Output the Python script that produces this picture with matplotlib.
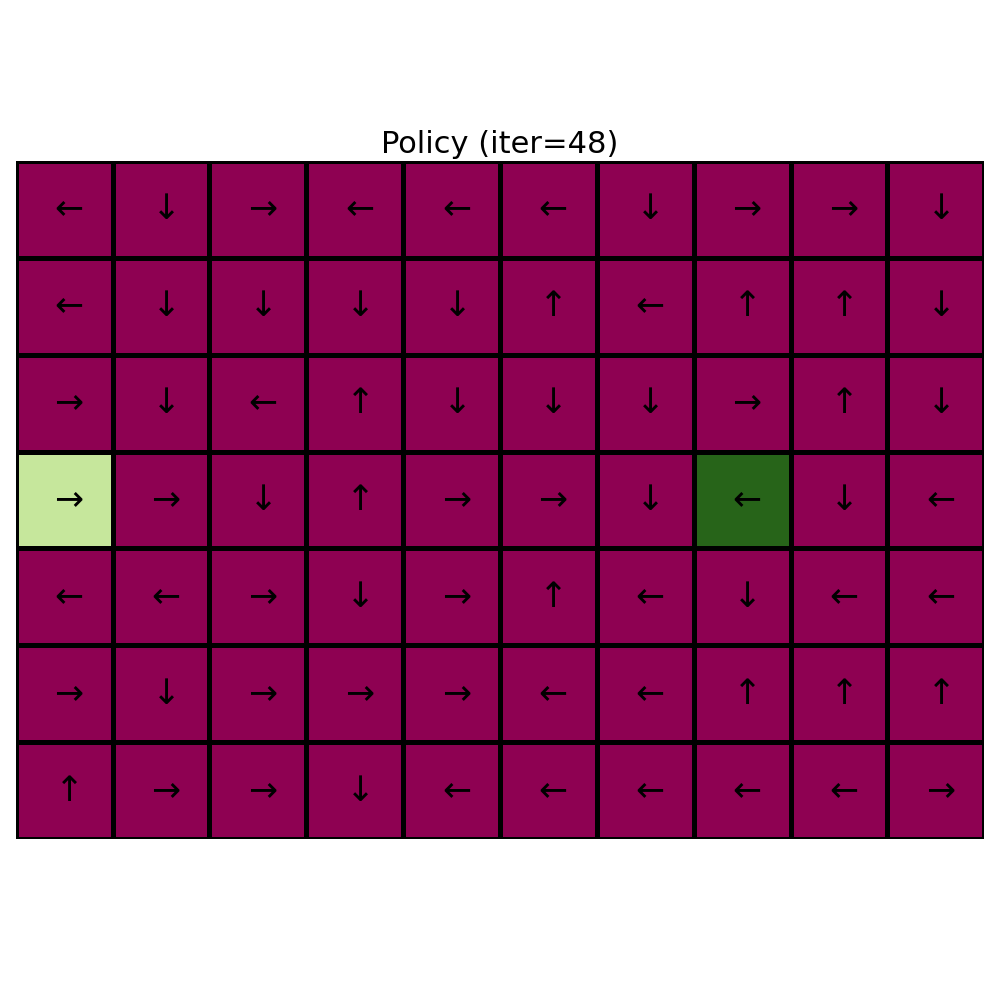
import numpy as np
import matplotlib
matplotlib.use('Agg')
import matplotlib.pyplot as plt

# policy arrows, row 0 is the top row
policy = [
    ['←', '↓', '→', '←', '←', '←', '↓', '→', '→', '↓'],
    ['←', '↓', '↓', '↓', '↓', '↑', '←', '↑', '↑', '↓'],
    ['→', '↓', '←', '↑', '↓', '↓', '↓', '→', '↑', '↓'],
    ['→', '→', '↓', '↑', '→', '→', '↓', '←', '↓', '←'],
    ['←', '←', '→', '↓', '→', '↑', '←', '↓', '←', '←'],
    ['→', '↓', '→', '→', '→', '←', '←', '↑', '↑', '↑'],
    ['↑', '→', '→', '↓', '←', '←', '←', '←', '←', '→'],
]

# cell values (start / goal highlighted)
values = [
    [0, 0, 0, 0, 0, 0, 0, 0, 0, 0],
    [0, 0, 0, 0, 0, 0, 0, 0, 0, 0],
    [0, 0, 0, 0, 0, 0, 0, 0, 0, 0],
    [0.67, 0, 0, 0, 0, 0, 0, 1.0, 0, 0],
    [0, 0, 0, 0, 0, 0, 0, 0, 0, 0],
    [0, 0, 0, 0, 0, 0, 0, 0, 0, 0],
    [0, 0, 0, 0, 0, 0, 0, 0, 0, 0],
]
iteration = 48

grid = np.array(values)
n_rows, n_cols = grid.shape

fig = plt.figure(figsize=(10, 10), dpi=100)
ax = fig.add_axes([0.015, 0.161, 0.97, 0.678])
ax.pcolormesh(np.arange(n_cols + 1), np.arange(n_rows + 1), grid,
              cmap='PiYG', vmin=0, vmax=1, edgecolors='black', linewidth=2.5)
ax.set_xlim(0, n_cols)
ax.set_ylim(n_rows, 0)
ax.set_aspect('equal')

for r in range(n_rows):
    for c in range(n_cols):
        ax.text(c + 0.5, r + 0.5, ' ' + policy[r][c], ha='center', va='center',
                fontsize=25, color='black')

ax.set_title(f'Policy (iter={iteration})', fontsize=22)
ax.axis('off')

plt.savefig('out.png', dpi=100)
